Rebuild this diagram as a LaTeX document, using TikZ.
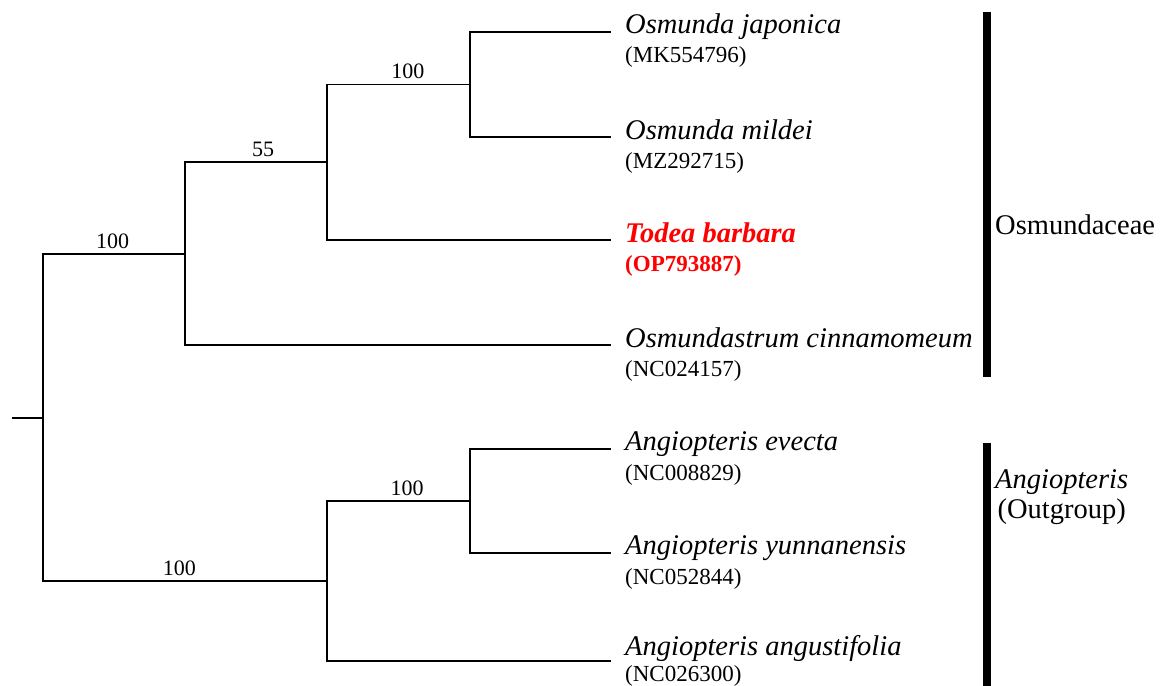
\documentclass[tikz,border=0pt]{standalone}
\usepackage{fontspec}
\setmainfont{Liberation Serif}
\usetikzlibrary{positioning,calc}
\definecolor{ink}{HTML}{000000}
\definecolor{focus}{HTML}{FF0000}
\tikzset{
  branch/.style={draw=ink, line width=1.2pt},
  cladebar/.style={draw=ink, line width=8pt},
  taxon/.style={anchor=base west, inner sep=0pt, font=\fontsize{28.5}{30}\selectfont\itshape},
  accession/.style={anchor=base west, inner sep=0pt, font=\fontsize{23}{25}\selectfont},
  support/.style={above=5pt, inner sep=0pt, font=\fontsize{22}{24}\selectfont},
  group/.style={anchor=west, inner sep=0pt, align=center, font=\fontsize{28.5}{30}\selectfont},
}

\begin{document}
\begin{tikzpicture}[x=1pt, y=-1pt]
\useasboundingbox (0,0) rectangle (1161,685);
% internal nodes
\coordinate (stub) at (12,418);
\coordinate (root) at (43,418);
\coordinate (osmclade) at (185,254);
\coordinate (osmunda) at (327,162);
\coordinate (japmil) at (470,84.5);
\coordinate (angclade) at (327,581);
\coordinate (evyun) at (470,501);
% tips
\coordinate (tjap) at (611,32);
\coordinate (tmil) at (611,137);
\coordinate (ttod) at (611,240);
\coordinate (tcin) at (611,345);
\coordinate (teve) at (611,449);
\coordinate (tyun) at (611,553);
\coordinate (tang) at (611,661);
% taxa
\node[taxon] (jap) at ($(tjap)+(14,2)$) {Osmunda japonica};
\node[accession] (japacc) at ($(tjap)+(14,31)$) {(MK554796)};
\node[taxon] (mil) at ($(tmil)+(14,2)$) {Osmunda mildei};
\node[accession] (milacc) at ($(tmil)+(14,31)$) {(MZ292715)};
\node[taxon, text=focus, font=\fontsize{28.5}{30}\selectfont\bfseries\itshape] (tod) at ($(ttod)+(14,2)$) {Todea barbara};
\node[accession, text=focus, font=\fontsize{23}{25}\selectfont\bfseries] (todacc) at ($(ttod)+(14,31)$) {(OP793887)};
\node[taxon] (cin) at ($(tcin)+(14,2)$) {Osmundastrum cinnamomeum};
\node[accession] (cinacc) at ($(tcin)+(14,31)$) {(NC024157)};
\node[taxon] (eve) at ($(teve)+(14,1)$) {Angiopteris evecta};
\node[accession] (eveacc) at ($(teve)+(14,31)$) {(NC008829)};
\node[taxon] (yun) at ($(tyun)+(14,1)$) {Angiopteris yunnanensis};
\node[accession] (yunacc) at ($(tyun)+(14,31)$) {(NC052844)};
\node[taxon] (ang) at ($(tang)+(14,-6)$) {Angiopteris angustifolia};
\node[accession] (angacc) at ($(tang)+(14,20)$) {(NC026300)};
% branches
\draw[branch] (stub) -- (root);
\draw[branch] (root) |- node[support, pos=0.745] {100} (osmclade);
\draw[branch] (root) |- node[support, pos=0.74] {100} (angclade);
\draw[branch] (osmclade) |- node[support, pos=0.775] {55} (osmunda);
\draw[branch] (osmclade) |- (tcin);
\draw[branch] (osmunda) |- node[support, pos=0.783] {100} (japmil);
\draw[branch] (osmunda) |- (ttod);
\draw[branch] (japmil) |- (tjap);
\draw[branch] (japmil) |- (tmil);
\draw[branch] (angclade) |- node[support, pos=0.78] {100} (evyun);
\draw[branch] (angclade) |- (tang);
\draw[branch] (evyun) |- (teve);
\draw[branch] (evyun) |- (tyun);
% clade bars
\coordinate (osmtop) at (987,12);
\coordinate (osmbot) at (987,377);
\coordinate (angtop) at (987,443);
\coordinate (angbot) at (987,690);
\draw[cladebar] (osmtop) -- (osmbot);
\draw[cladebar] (angtop) -- (angbot);
\node[group] (osmlab) at (995,225) {Osmundaceae};
\node[group] (anglab) at (995,497) {\textit{Angiopteris}\\(Outgroup)};
\end{tikzpicture}
\end{document}
